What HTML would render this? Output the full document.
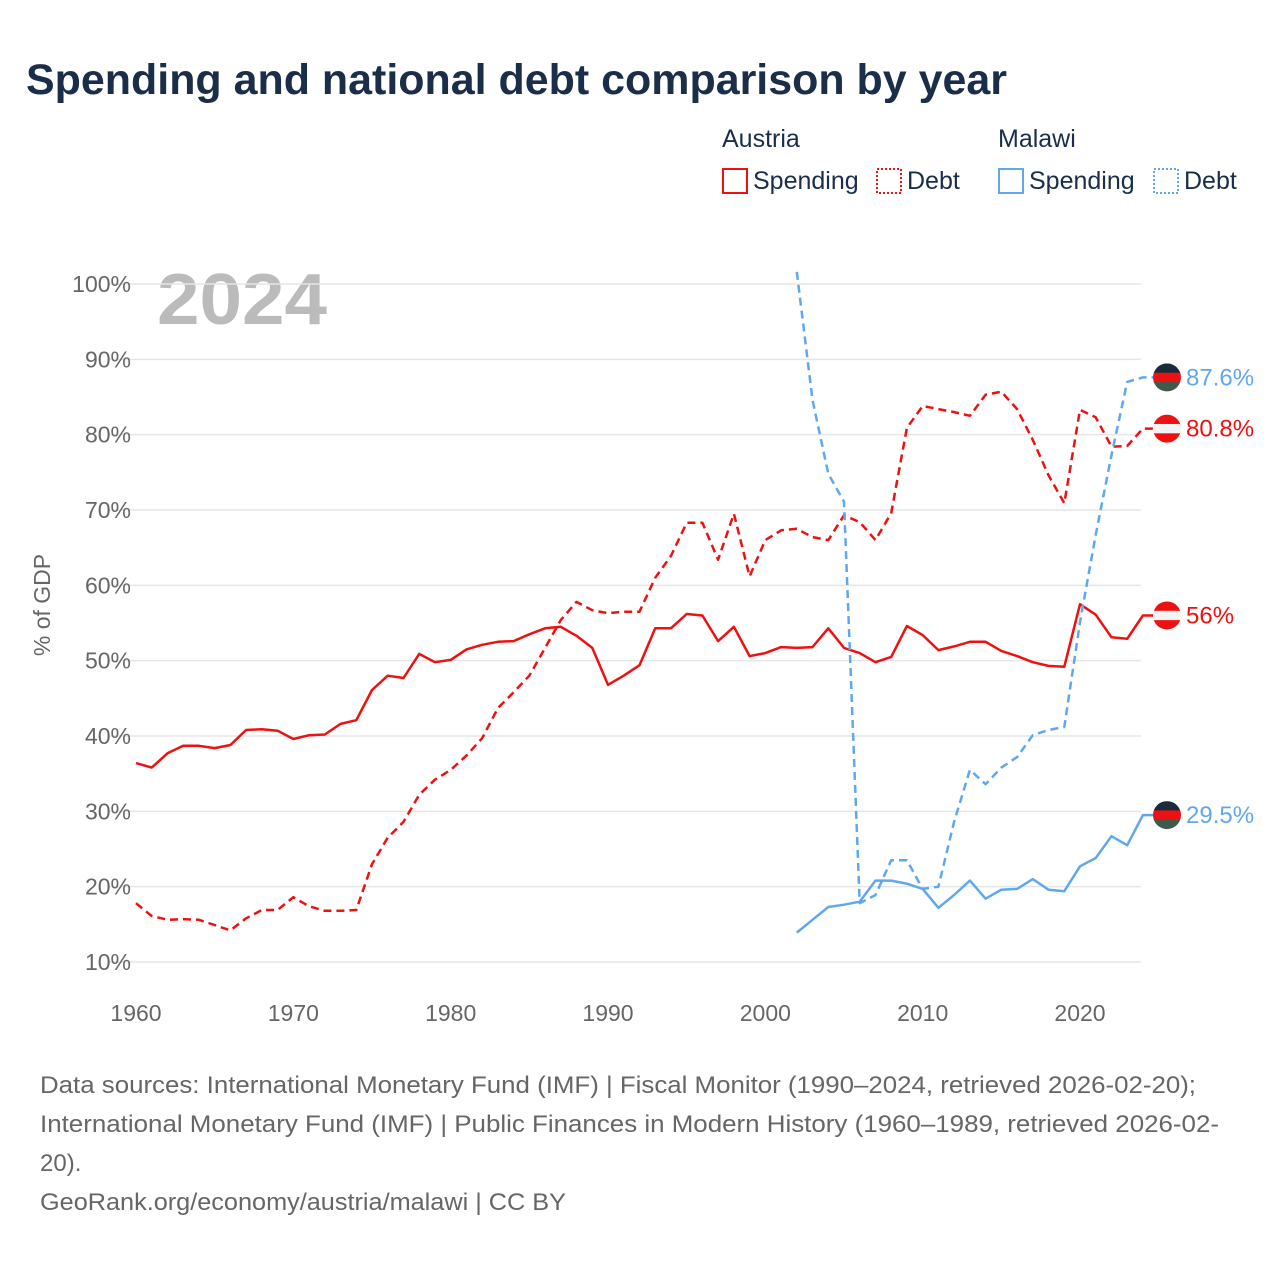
<!DOCTYPE html>
<html><head><meta charset="utf-8"><style>
body{margin:0;background:#fff;font-family:"Liberation Sans",sans-serif;}
svg text{font-family:"Liberation Sans",sans-serif;}
</style></head><body>
<svg id="chart" width="1280" height="1280" xmlns="http://www.w3.org/2000/svg">
<text x="26" y="94" font-size="43" font-weight="bold" fill="#1a2e4a" textLength="981" lengthAdjust="spacingAndGlyphs">Spending and national debt comparison by year</text>
<g font-size="25" fill="#1a2e4a">
<text x="722" y="147" fill="#1a2e4a">Austria</text>
<text x="998" y="147" fill="#1a2e4a">Malawi</text>
<rect x="723" y="169" width="24" height="24" fill="none" stroke="#ee1111" stroke-width="2"/>
<text x="753" y="189" fill="#1a2e4a">Spending</text>
<rect x="877" y="169" width="24" height="24" fill="none" stroke="#ee1111" stroke-width="2" stroke-dasharray="2,2"/>
<text x="907" y="189" fill="#1a2e4a">Debt</text>
<rect x="999" y="169" width="24" height="24" fill="none" stroke="#5fa8ee" stroke-width="2"/>
<text x="1029" y="189" fill="#1a2e4a">Spending</text>
<rect x="1154" y="169" width="24" height="24" fill="none" stroke="#5fa8ee" stroke-width="2" stroke-dasharray="2,2"/>
<text x="1184" y="189" fill="#1a2e4a">Debt</text>
</g>
<text x="157" y="324" font-size="72" font-weight="bold" fill="#bbbbbb" textLength="170" lengthAdjust="spacingAndGlyphs">2024</text>
<text transform="translate(50,605) rotate(-90)" text-anchor="middle" font-size="23" fill="#666">% of GDP</text>
<g id="grid"></g><g id="series"></g><g id="ends"></g>
<g font-size="24" fill="#666">
<text x="40" y="1093" textLength="1156" lengthAdjust="spacingAndGlyphs">Data sources: International Monetary Fund (IMF) | Fiscal Monitor (1990–2024, retrieved 2026-02-20);</text>
<text x="40" y="1132" textLength="1179" lengthAdjust="spacingAndGlyphs">International Monetary Fund (IMF) | Public Finances in Modern History (1960–1989, retrieved 2026-02-</text>
<text x="40" y="1171">20).</text>
<text x="40" y="1210" textLength="526" lengthAdjust="spacingAndGlyphs">GeoRank.org/economy/austria/malawi | CC BY</text>
</g>
</svg>
<script>
const yTicks=[10,20,30,40,50,60,70,80,90,100];
const xTicks=[1960,1970,1980,1990,2000,2010,2020];
const austriaYears0=1960;
const austriaSpending=[36.4,35.8,37.7,38.7,38.7,38.4,38.8,40.8,40.9,40.7,39.6,40.1,40.2,41.6,42.1,46.1,48.0,47.7,50.9,49.8,50.1,51.5,52.1,52.5,52.6,53.5,54.3,54.5,53.3,51.7,46.8,48.0,49.4,54.3,54.3,56.2,56.0,52.6,54.5,50.6,51.0,51.8,51.7,51.8,54.3,51.7,51.0,49.8,50.5,54.6,53.4,51.4,51.9,52.5,52.5,51.3,50.6,49.8,49.3,49.2,57.5,56.1,53.1,52.9,56.0];
const austriaDebt=[17.8,16.1,15.6,15.7,15.6,14.9,14.2,15.8,16.9,16.9,18.6,17.4,16.8,16.8,16.9,23.0,26.5,28.6,32.2,34.2,35.5,37.4,39.7,43.7,45.8,48.0,51.7,55.4,57.8,56.7,56.3,56.5,56.5,61.0,63.9,68.3,68.3,63.4,69.5,61.2,66.0,67.3,67.5,66.4,66.0,69.3,68.4,66.0,69.6,80.9,83.8,83.4,83.0,82.5,85.3,85.7,83.4,79.3,74.6,70.9,83.3,82.3,78.4,78.5,80.8];
const malawiYears0=2002;
const malawiSpending=[13.9,15.6,17.3,17.6,18.0,20.8,20.8,20.4,19.7,17.2,18.9,20.8,18.4,19.6,19.7,21.0,19.6,19.4,22.7,23.8,26.7,25.5,29.5];
const malawiDebt=[101.6,84.6,74.8,71.1,17.8,18.9,23.5,23.5,19.7,20.0,28.6,35.5,33.6,35.8,37.2,40.1,40.8,41.2,55.1,66.7,77.3,87.0,87.6];
const endLabels=["87.6%","80.8%","56%","29.5%"];

const X=y=>136+(y-1960)*(944/60);
const Y=v=>962-(v-10)*(678/90);
const NS="http://www.w3.org/2000/svg";
function mk(tag,attrs,parent){const e=document.createElementNS(NS,tag);for(const k in attrs)e.setAttribute(k,attrs[k]);parent.appendChild(e);return e;}
const grid=document.getElementById('grid');
yTicks.forEach(t=>{
 const l=mk('line',{x1:108,x2:1141,y1:Y(t),y2:Y(t),stroke:'#e6e6e6','stroke-width':1.5},grid);
 
 
 const tx=mk('text',{x:131,y:Y(t)+8,'text-anchor':'end','font-size':23,fill:'#666'},grid);
 tx.textContent=t+'%';
 
 
});
xTicks.forEach(t=>{
 const tx=mk('text',{x:X(t),y:1021,'text-anchor':'middle','font-size':23,fill:'#666'},grid);
 tx.textContent=t;
 
 
});
const ser=document.getElementById('series');
function line(arr,y0,color,dash,name){
 const pts=arr.map((v,i)=>X(y0+i).toFixed(1)+','+Y(v).toFixed(1));
 pts.push('1153,'+Y(arr[arr.length-1]).toFixed(1));
 const p=mk('polyline',{points:pts.join(' '),fill:'none',stroke:color,'stroke-width':2.5,'stroke-linejoin':'round'},ser);
 if(dash)p.setAttribute('stroke-dasharray','8,5');
 
 
}
const cp=mk('clipPath',{id:'clip'},ser);mk('rect',{x:100,y:270,width:1060,height:720},cp);
ser.setAttribute('clip-path','url(#clip)');
line(austriaSpending,austriaYears0,'#ee1111',false,'austria-spending-line');
line(austriaDebt,austriaYears0,'#ee1111',true,'austria-debt-line');
line(malawiSpending,malawiYears0,'#5fa8ee',false,'malawi-spending-line');
line(malawiDebt,malawiYears0,'#5fa8ee',true,'malawi-debt-line');
const ends=document.getElementById('ends');
const endVals=[[malawiDebt[malawiDebt.length-1],'mw','#5fa8ee'],[austriaDebt[austriaDebt.length-1],'at','#ee1111'],[austriaSpending[austriaSpending.length-1],'at','#ee1111'],[malawiSpending[malawiSpending.length-1],'mw','#5fa8ee']];
endVals.forEach((e,i)=>{
 const cy=Y(e[0]),cx=1167;
 const g=mk('g',{},ends);
 
 
 const cid='fc'+i;const c=mk('clipPath',{id:cid},g);mk('circle',{cx:cx,cy:cy,r:14},c);
 const cols=e[1]==='at'?['#ee1111','#f4f4f4','#ee1111']:['#1c2b3a','#ee1111','#3f5a4a'];
 cols.forEach((col,k)=>mk('rect',{x:cx-14,y:cy-14+k*28/3,width:28,height:28/3+0.5,fill:col,'clip-path':'url(#'+cid+')'},g));
 const t=mk('text',{x:1186,y:cy+8,'font-size':24,fill:e[2]},ends);
 t.textContent=endLabels[i];
 
 
});
</script>
</body></html>
